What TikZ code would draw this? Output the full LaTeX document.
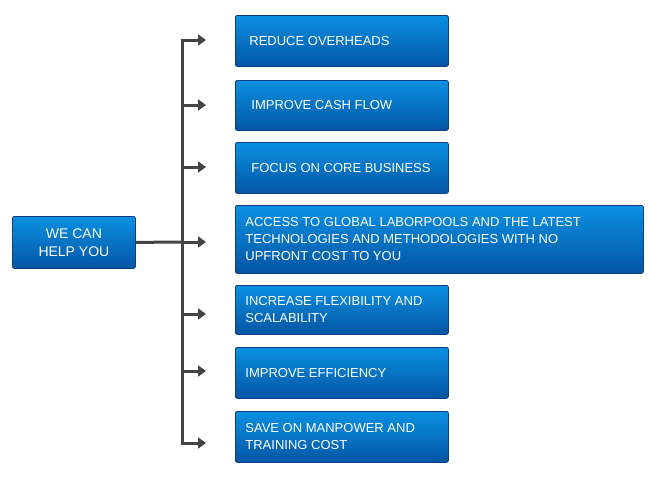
\documentclass[tikz,border=0pt]{standalone}
\usepackage{fontspec}
\setmainfont{Liberation Sans}
\usetikzlibrary{arrows.meta}
\definecolor{boxtop}{HTML}{0A90E2}
\definecolor{boxbot}{HTML}{0455A4}
\definecolor{boxedge}{HTML}{0B3F80}
\definecolor{linec}{HTML}{444444}
\tikzset{
  bluebox/.style={draw=boxedge, line width=0.8pt, rounded corners=2pt,
    top color=boxtop, bottom color=boxbot, text=white, anchor=north west,
    font=\fontsize{13}{17}\selectfont, inner ysep=0pt},
  padbox/.style 2 args={bluebox, minimum width=#2, text width=#2, inner xsep=0pt, align=none,
    execute at begin node={\leftskip=#1\rightskip=0pt plus 1fil\parfillskip=0pt plus 1fil\hyphenpenalty=10000\relax}},
  conn/.style={draw=linec, line width=3pt},
  arr/.style={draw=linec, line width=3pt, -{Triangle[length=8pt,width=11pt]}},
}
\begin{document}
\begin{tikzpicture}[x=1pt,y=-1pt]
\useasboundingbox (0,0) rectangle (650,480);
% left box
\node[bluebox, minimum width=123pt, minimum height=52pt, align=center, inner xsep=0pt,
  font=\fontsize{14}{18}\selectfont] (help) at (12,216) {WE CAN\\HELP YOU};
% right boxes
\node[padbox={14pt}{213pt}, minimum height=51pt] (b1) at (235,15) {REDUCE OVERHEADS};
\node[padbox={16pt}{213pt}, minimum height=50pt] (b2) at (235,80) {IMPROVE CASH FLOW};
\node[padbox={16pt}{213pt}, minimum height=51pt] (b3) at (235,142) {FOCUS ON CORE BUSINESS};
\node[padbox={10pt}{408pt}, minimum height=68pt] (b4) at (235,205) {ACCESS TO GLOBAL LABORPOOLS AND THE LATEST\\TECHNOLOGIES AND METHODOLOGIES WITH NO\\UPFRONT COST TO YOU};
\node[padbox={10pt}{213pt}, minimum height=49pt] (b5) at (235,285) {INCREASE FLEXIBILITY AND\\SCALABILITY};
\node[padbox={10pt}{213pt}, minimum height=51pt] (b6) at (235,347) {IMPROVE EFFICIENCY};
\node[padbox={10pt}{213pt}, minimum height=51pt] (b7) at (235,411) {SAVE ON MANPOWER AND\\TRAINING COST};
% connectors
\coordinate (top) at (182,40);
\coordinate (bot) at (182,443);
\coordinate (mid) at (182,242);
\draw[conn] (help.east) -- (mid);
\draw[conn] (top) -- (bot);
\foreach \y in {40,105,167,242,314,371,443}{
  \coordinate (s\y) at (180.5,\y);
  \coordinate (e\y) at (206,\y);
  \draw[arr] (s\y) -- (e\y);
}
\end{tikzpicture}
\end{document}
